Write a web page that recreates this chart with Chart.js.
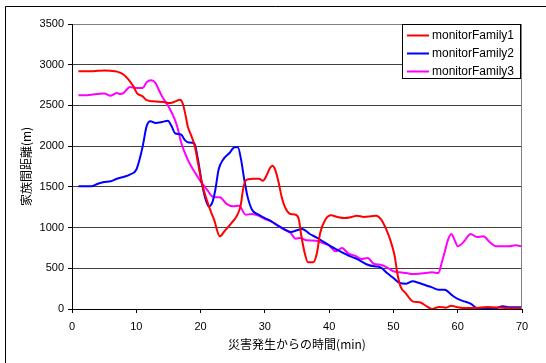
<!DOCTYPE html>
<html>
<head>
<meta charset="utf-8">
<script src="https://cdn.jsdelivr.net/npm/chart.js@4/dist/chart.umd.min.js"></script>
<style>
  html, body { margin: 0; padding: 0; background: #fff; }
  #chart { display: block; }
</style>
</head>
<body>
<canvas id="chart" width="546" height="363"></canvas>
<script>
const seriesNames = ["monitorFamily1", "monitorFamily2", "monitorFamily3"];
const seriesColors = ["#ff0000", "#0000ff", "#ff00ff"];

// minutes since the disaster, and family distance (m)
const time1 = [1, 2, 3, 4, 5, 6, 7, 8, 8.8, 9.6, 10.1, 11, 11.5, 12.6, 14.2, 15.3, 16.1, 16.8, 17.2, 17.7, 18, 18.6, 19.1, 19.6, 20.2, 21.3, 22.1, 23, 23.7, 24.8, 25.6, 26.2, 26.7, 27.2, 28.3, 29.1, 29.7, 30.2, 30.8, 31.2, 31.6, 32.1, 32.6, 33.2, 34, 34.8, 35.3, 35.6, 36.2, 36.7, 37.5, 38.1, 38.6, 39.4, 40.3, 41.3, 42.4, 43.5, 44.3, 45.4, 46.5, 47.3, 48.1, 48.9, 49.5, 50.2, 50.6, 51.1, 51.9, 53, 54.1, 55.2, 56, 57.1, 58.2, 59, 59.8, 60.9, 62.5, 64.6, 67.4, 70];
const dist1 = [2920, 2920, 2920, 2925, 2930, 2925, 2915, 2880, 2816, 2726, 2652, 2611, 2570, 2550, 2542, 2530, 2550, 2570, 2530, 2366, 2243, 2120, 2000, 1793, 1547, 1260, 1097, 892, 954, 1056, 1138, 1260, 1506, 1588, 1600, 1600, 1576, 1629, 1731, 1760, 1711, 1568, 1383, 1240, 1166, 1158, 1097, 933, 688, 573, 573, 688, 933, 1097, 1150, 1130, 1117, 1130, 1146, 1130, 1138, 1146, 1097, 974, 851, 647, 442, 278, 196, 94, 82, 33, 0, 25, 16, 41, 25, 12, 12, 25, 12, 8];

const time2 = [1, 3, 4, 5, 6, 7, 8, 9, 10, 10.5, 11, 11.6, 12.2, 13, 14, 14.9, 15.5, 16, 17, 17.5, 18, 19, 19.6, 20.2, 20.8, 21.3, 21.8, 22.3, 22.8, 23.5, 24.5, 25.3, 25.8, 26.3, 26.8, 27.3, 28, 29, 30, 31, 32, 33, 34, 35, 35.8, 37, 38, 39, 40, 41, 42, 43, 44, 45, 46, 47, 48, 49, 50, 51, 52, 53, 54, 55, 56, 57, 58, 59, 60, 61, 62, 63, 64, 66, 67, 68, 70];
const dist2 = [1506, 1506, 1539, 1560, 1568, 1600, 1621, 1650, 1711, 1834, 1998, 2243, 2305, 2284, 2296, 2313, 2243, 2161, 2141, 2079, 2047, 2038, 1834, 1547, 1343, 1260, 1302, 1465, 1711, 1834, 1916, 1985, 1985, 1834, 1588, 1383, 1220, 1158, 1117, 1077, 1023, 982, 946, 966, 982, 921, 880, 831, 782, 737, 696, 655, 626, 585, 544, 524, 512, 442, 381, 319, 311, 340, 319, 291, 266, 237, 237, 176, 123, 94, 65, 12, 4, 12, 33, 20, 20];

const time3 = [1, 2, 3, 4, 5, 6, 7, 7.5, 8, 8.5, 9, 10, 11, 11.6, 12.3, 13, 13.5, 14, 15, 16, 16.5, 17, 18, 19, 20, 21, 22, 23, 24, 25, 26, 27, 28, 29, 30, 31, 32, 33, 34, 34.8, 35.5, 36.5, 38, 39, 40, 41, 42, 43, 44, 45, 46, 47, 48, 49, 50, 51, 52, 53, 54, 55, 56, 57, 57.5, 58, 58.5, 59, 59.5, 60, 61, 62, 63, 64, 65, 66, 67, 68, 69, 70];
const dist3 = [2624, 2624, 2632, 2640, 2648, 2620, 2652, 2640, 2652, 2693, 2726, 2714, 2714, 2783, 2808, 2775, 2693, 2611, 2489, 2325, 2202, 2038, 1834, 1691, 1568, 1465, 1375, 1371, 1294, 1261, 1269, 1158, 1166, 1146, 1105, 1077, 1027, 974, 933, 864, 872, 843, 839, 810, 782, 708, 749, 680, 655, 614, 626, 553, 544, 512, 463, 450, 442, 430, 434, 442, 450, 442, 565, 708, 851, 921, 851, 770, 831, 921, 884, 892, 819, 770, 770, 770, 782, 770];

const xTitle = "災害発生からの時間(min)";
const yTitle = "家族間距離(m)";

const tickFont = { family: "'Liberation Sans', Arial, sans-serif", size: 11 };
const titleFont = { family: "'Noto Sans CJK JP', sans-serif", size: 12 };

function toPoints(xs, ys) {
  return xs.map((x, i) => ({ x, y: ys[i] }));
}

// white page, outer frame (left and top edges only are visible), right border of plot
const framePlugin = {
  id: "frame",
  beforeDraw(chart) {
    const ctx = chart.ctx;
    ctx.save();
    ctx.fillStyle = "#fff";
    ctx.fillRect(0, 0, chart.width, chart.height);
    ctx.strokeStyle = "#000";
    ctx.lineWidth = 1;
    ctx.beginPath();
    ctx.moveTo(5.5, chart.height);
    ctx.lineTo(5.5, 6.5);
    ctx.lineTo(chart.width, 6.5);
    ctx.stroke();
    ctx.restore();
  },
  afterDraw(chart) {
    const { ctx, chartArea } = chart;
    ctx.save();
    ctx.strokeStyle = "#808080";
    ctx.lineWidth = 1;
    ctx.beginPath();
    ctx.moveTo(chartArea.right - 0.5, chartArea.top);
    ctx.lineTo(chartArea.right - 0.5, chartArea.bottom);
    ctx.stroke();
    ctx.restore();
  },
};

// boxed legend in the top right corner of the plot
const boxLegendPlugin = {
  id: "boxLegend",
  afterDraw(chart) {
    const ctx = chart.ctx;
    const left = 402.5, top = 24.5, width = 118, height = 54;
    ctx.save();
    ctx.fillStyle = "#fff";
    ctx.fillRect(left, top, width, height);
    ctx.strokeStyle = "#000";
    ctx.lineWidth = 1;
    ctx.strokeRect(left, top, width, height);
    ctx.font = "12px 'Liberation Sans', Arial, sans-serif";
    ctx.textBaseline = "middle";
    ctx.fillStyle = "#000";
    chart.data.datasets.forEach((ds, i) => {
      const y = 35.5 + i * 18;
      ctx.strokeStyle = ds.borderColor;
      ctx.lineWidth = 2;
      ctx.beginPath();
      ctx.moveTo(407, y);
      ctx.lineTo(429, y);
      ctx.stroke();
      ctx.fillText(ds.label, 432, y);
    });
    ctx.restore();
  },
};

const datasets = [
  toPoints(time1, dist1),
  toPoints(time2, dist2),
  toPoints(time3, dist3),
].map((points, i) => ({
  label: seriesNames[i],
  data: points,
  borderColor: seriesColors[i],
  backgroundColor: seriesColors[i],
  borderWidth: 2,
  pointRadius: 0,
  fill: false,
  cubicInterpolationMode: "monotone",
}));

new Chart(document.getElementById("chart"), {
  type: "line",
  data: { datasets },
  options: {
    responsive: false,
    animation: false,
    devicePixelRatio: 1,
    layout: { padding: { top: 24, right: 24, left: 0, bottom: 0 } },
    plugins: {
      legend: { display: false },
      tooltip: { enabled: false },
    },
    scales: {
      x: {
        type: "linear",
        min: 0,
        max: 70,
        ticks: { stepSize: 10, color: "#000", font: tickFont, padding: 7, maxRotation: 0, callback: (v) => String(v) },
        grid: { drawOnChartArea: false, tickLength: 4, tickColor: "#000" },
        border: { color: "#000" },
        title: { display: true, text: xTitle, color: "#000", font: titleFont, padding: { bottom: 11 } },
        afterFit(scale) { scale.height = 54; },
      },
      y: {
        min: 0,
        max: 3500,
        ticks: { stepSize: 500, color: "#000", font: tickFont, padding: 4, callback: (v) => String(v) },
        grid: {
          color: (c) => (c.tick && c.tick.value === 3500 ? "#808080" : "#404040"),
          tickLength: 4,
          tickColor: "#000",
        },
        border: { color: "#000" },
        title: { display: true, text: yTitle, color: "#000", font: titleFont, padding: { top: 19 } },
        afterFit(scale) { scale.width = 72; },
      },
    },
  },
  plugins: [framePlugin, boxLegendPlugin],
});
</script>
</body>
</html>
